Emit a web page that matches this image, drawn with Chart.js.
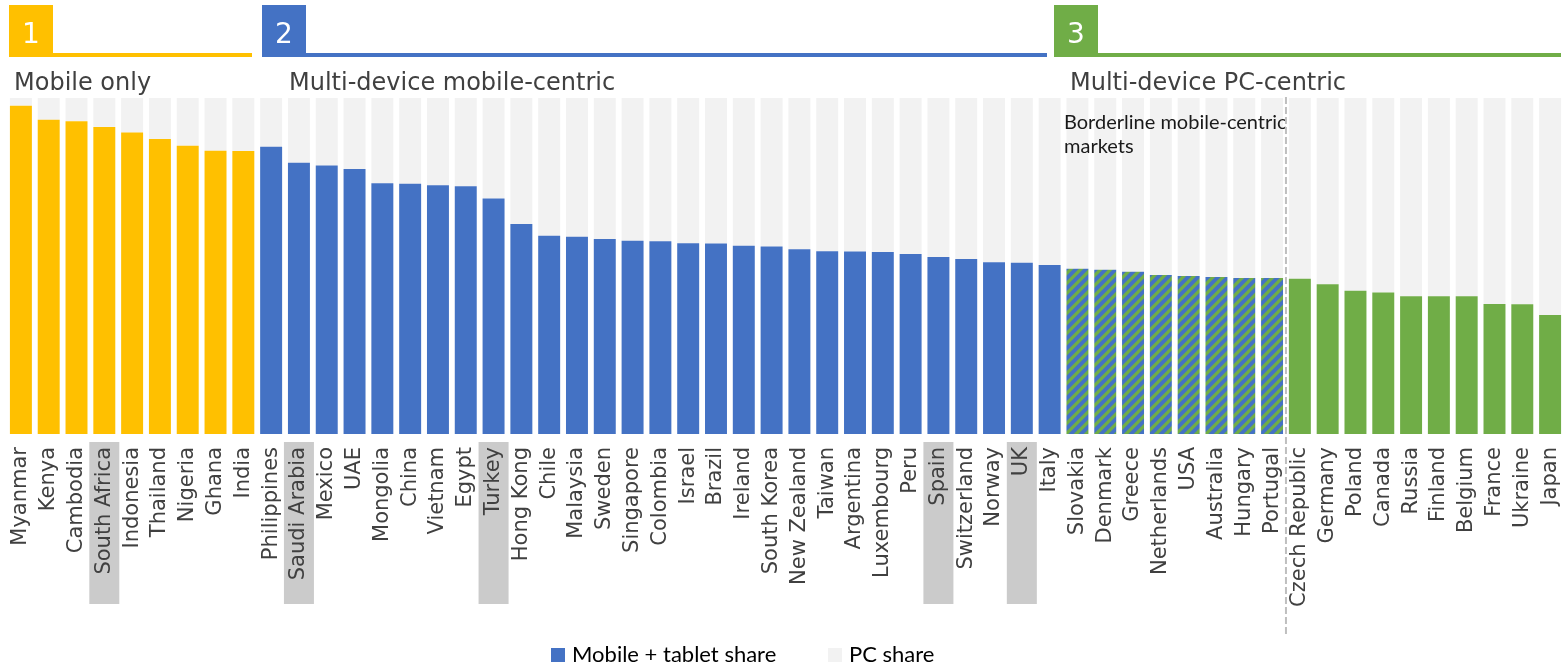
<!DOCTYPE html>
<html>
  <head>
    <title>Mobile vs PC share by market</title>
    <style>
      body { margin: 0; background: #fff; }
      #wrap { position: relative; width: 1564px; height: 664px; }
    </style>
    <script src="https://cdn.jsdelivr.net/npm/chart.js"></script>
  </head>
  <body>
    <div id="wrap"><canvas id="chart" width="1564" height="664"></canvas></div>

    <script>
      var countries = [
        "Myanmar", "Kenya", "Cambodia", "South Africa", "Indonesia", "Thailand", "Nigeria", "Ghana", "India",
        "Philippines", "Saudi Arabia", "Mexico", "UAE", "Mongolia", "China", "Vietnam", "Egypt", "Turkey",
        "Hong Kong", "Chile", "Malaysia", "Sweden", "Singapore", "Colombia", "Israel", "Brazil", "Ireland",
        "South Korea", "New Zealand", "Taiwan", "Argentina", "Luxembourg", "Peru", "Spain", "Switzerland",
        "Norway", "UK", "Italy", "Slovakia", "Denmark", "Greece", "Netherlands", "USA", "Australia",
        "Hungary", "Portugal", "Czech Republic", "Germany", "Poland", "Canada", "Russia", "Finland",
        "Belgium", "France", "Ukraine", "Japan"
      ];
      var mobileShare = [
        97.7, 93.5, 93.1, 91.4, 89.7, 87.8, 85.8, 84.3, 84.2,
        85.5, 80.7, 79.9, 78.9, 74.6, 74.5, 74.0, 73.7, 70.1,
        62.5, 59.0, 58.7, 58.0, 57.5, 57.4, 56.8, 56.7, 56.0,
        55.8, 55.0, 54.4, 54.3, 54.2, 53.6, 52.7, 52.1,
        51.1, 51.0, 50.3, 49.2, 48.9, 48.3, 47.3, 47.0, 46.7,
        46.4, 46.4, 46.2, 44.6, 42.6, 42.1, 41.0, 41.0,
        41.0, 38.7, 38.6, 35.4
      ];
      var pcShare = [
        2.3, 6.5, 6.9, 8.6, 10.3, 12.2, 14.2, 15.7, 15.8,
        14.5, 19.3, 20.1, 21.1, 25.4, 25.5, 26.0, 26.3, 29.9,
        37.5, 41.0, 41.3, 42.0, 42.5, 42.6, 43.2, 43.3, 44.0,
        44.2, 45.0, 45.6, 45.7, 45.8, 46.4, 47.3, 47.9,
        48.9, 49.0, 49.7, 50.8, 51.1, 51.7, 52.7, 53.0, 53.3,
        53.6, 53.6, 53.8, 55.4, 57.4, 57.9, 59.0, 59.0,
        59.0, 61.3, 61.4, 64.6
      ];
      // 1 = mobile only, 2 = multi-device mobile-centric, 3 = multi-device PC-centric
      var tier = [
        1, 1, 1, 1, 1, 1, 1, 1, 1,
        2, 2, 2, 2, 2, 2, 2, 2, 2,
        2, 2, 2, 2, 2, 2, 2, 2, 2,
        2, 2, 2, 2, 2, 2, 2, 2,
        2, 2, 2, 2, 2, 2, 2, 2, 2,
        2, 2, 3, 3, 3, 3, 3, 3,
        3, 3, 3, 3
      ];
      var borderline = ["Slovakia", "Denmark", "Greece", "Netherlands", "USA", "Australia", "Hungary", "Portugal"];
      var highlighted = ["South Africa", "Saudi Arabia", "Turkey", "Spain", "UK"];
      var tierTitles = ["Mobile only", "Multi-device mobile-centric", "Multi-device PC-centric"];
      var legendLabels = ["Mobile + tablet share", "PC share"];

      var YELLOW = "#FFC000", BLUE = "#4472C4", GREEN = "#70AD47", GREY = "#F2F2F2";

      // blue with green diagonal stripes for the borderline markets
      function makeHatch() {
        var c = document.createElement("canvas");
        c.width = 10; c.height = 10;
        var g = c.getContext("2d");
        g.fillStyle = BLUE;
        g.fillRect(0, 0, 10, 10);
        g.strokeStyle = GREEN;
        g.lineWidth = 3.2;
        g.beginPath();
        g.moveTo(-2, 12); g.lineTo(12, -2);
        g.moveTo(-7, 7); g.lineTo(7, -7);
        g.moveTo(3, 17); g.lineTo(17, 3);
        g.stroke();
        return g.createPattern(c, "repeat");
      }
      var hatch = makeHatch();

      var barColors = countries.map(function (name, i) {
        if (borderline.indexOf(name) >= 0) return hatch;
        return tier[i] === 1 ? YELLOW : tier[i] === 2 ? BLUE : GREEN;
      });

      var decorations = {
        id: "decorations",
        beforeDraw: function (chart) {
          var ctx = chart.ctx, x = chart.scales.x;
          ctx.save();
          ctx.fillStyle = "#CBCBCB";
          highlighted.forEach(function (name) {
            var px = x.getPixelForValue(countries.indexOf(name));
            ctx.fillRect(px - 15, 442, 30, 162);
          });
          ctx.restore();
        },
        afterDatasetsDraw: function (chart) {
          var ctx = chart.ctx, x = chart.scales.x;
          ctx.save();

          // section headers
          var heads = [
            { n: "1", c: YELLOW, box: 9, end: 252 },
            { n: "2", c: BLUE, box: 262, end: 1047 },
            { n: "3", c: GREEN, box: 1054, end: 1561 }
          ];
          heads.forEach(function (h) {
            ctx.fillStyle = h.c;
            ctx.fillRect(h.box, 5, 44, 52);
            ctx.fillRect(h.box + 44, 53, h.end - h.box - 44, 4);
            ctx.fillStyle = "#fff";
            ctx.font = "28px 'DejaVu Sans'";
            ctx.textBaseline = "alphabetic";
            ctx.fillText(h.n, h.box + 13, 43);
          });

          ctx.fillStyle = "#404040";
          ctx.font = "24px 'DejaVu Sans'";
          ctx.fillText(tierTitles[0], 14, 90);
          ctx.fillText(tierTitles[1], 289, 90);
          ctx.fillText(tierTitles[2], 1070, 90);

          ctx.fillStyle = "#1a1a1a";
          ctx.font = "20px Lato";
          ctx.fillText("Borderline mobile-centric", 1064, 129);
          ctx.fillText("markets", 1064, 153);

          // dashed divider between borderline and PC-centric markets
          var dx = (x.getPixelForValue(45) + x.getPixelForValue(46)) / 2;
          ctx.strokeStyle = "#BFBFBF";
          ctx.lineWidth = 2;
          ctx.setLineDash([7, 3]);
          ctx.beginPath();
          ctx.moveTo(dx, 97);
          ctx.lineTo(dx, 637);
          ctx.stroke();
          ctx.setLineDash([]);

          // legend
          ctx.font = "22px Lato";
          ctx.fillStyle = BLUE;
          ctx.fillRect(551, 648, 14, 14);
          ctx.fillStyle = "#000";
          ctx.fillText(legendLabels[0], 572, 662);
          ctx.fillStyle = GREY;
          ctx.fillRect(828, 648, 14, 14);
          ctx.fillStyle = "#000";
          ctx.fillText(legendLabels[1], 849, 662);
          ctx.restore();
        }
      };

      var ctx = document.getElementById("chart").getContext("2d");
      var chart = new Chart(ctx, {
        type: "bar",
        data: {
          labels: countries,
          datasets: [
            {
              label: legendLabels[0],
              data: mobileShare,
              backgroundColor: barColors,
              barPercentage: 0.79,
              categoryPercentage: 1
            },
            {
              label: legendLabels[1],
              data: pcShare,
              backgroundColor: GREY,
              barPercentage: 0.79,
              categoryPercentage: 1
            }
          ]
        },
        options: {
          responsive: false,
          animation: false,
          layout: { padding: { left: 7, right: 0, top: 98, bottom: 0 } },
          plugins: { legend: { display: false }, tooltip: { enabled: false } },
          scales: {
            x: {
              stacked: true,
              grid: { display: false, drawTicks: false },
              border: { display: false },
              ticks: {
                autoSkip: false,
                minRotation: 90,
                maxRotation: 90,
                padding: 13,
                color: "#404040",
                font: { family: "'DejaVu Sans'", size: 21 }
              },
              afterFit: function (scale) {
                scale.height = 230;
                scale.paddingLeft = 0;
                scale.paddingRight = 0;
              }
            },
            y: {
              stacked: true,
              display: false,
              min: 0,
              max: 100
            }
          }
        },
        plugins: [decorations]
      });
    </script>
  </body>
</html>
